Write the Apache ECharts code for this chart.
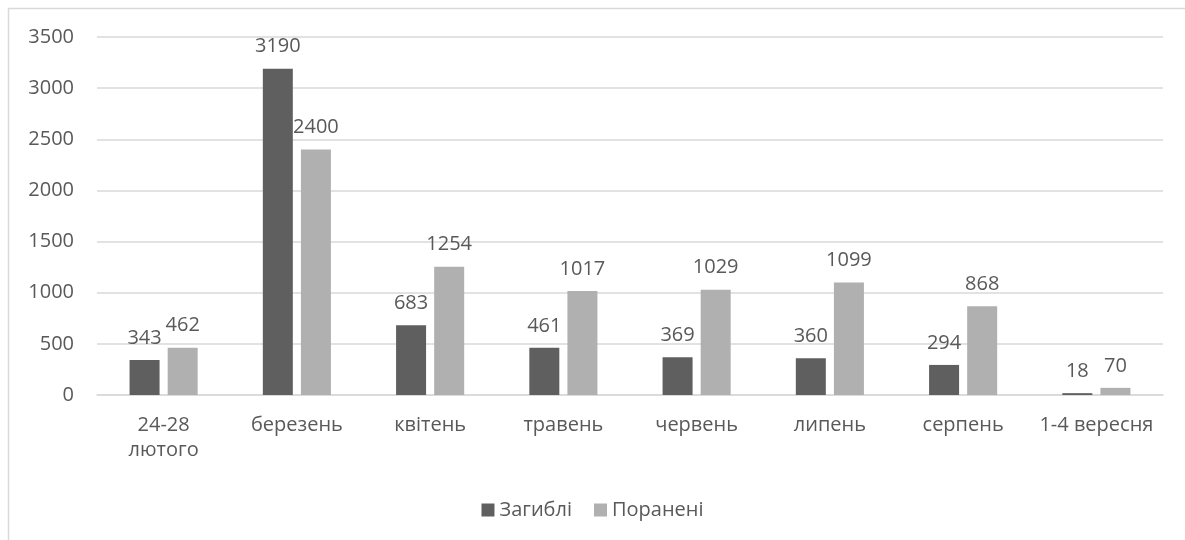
<!DOCTYPE html>
<html>
<head>
<meta charset="utf-8">
<script src="https://cdn.jsdelivr.net/npm/echarts@6/dist/echarts.min.js"></script>
<style>html,body{margin:0;padding:0;background:#fff}#c{width:1185px;height:540px}</style>
</head>
<body>
<div id="c"></div>
<script>
const categories = ['24-28\nлютого', 'березень', 'квітень', 'травень', 'червень', 'липень', 'серпень', '1-4 вересня'];
const killed = [343, 3190, 683, 461, 369, 360, 294, 18];
const wounded = [462, 2400, 1254, 1017, 1029, 1099, 868, 70];
const seriesNames = ['Загиблі', 'Поранені'];
const yTicks = {min: 0, max: 3500, interval: 500};

const font = '"Open Sans", "Noto Sans", sans-serif';
const txt = '#595959';
const fs = 20;
const chart = echarts.init(document.getElementById('c'));
chart.setOption({
  animation: false,
  textStyle: {fontFamily: font},
  graphic: [{type: 'rect', shape: {x: 8.5, y: 8.5, width: 1400, height: 800}, style: {fill: 'none', stroke: '#d9d9d9', lineWidth: 1.5}, silent: true}],
  grid: {left: 97, right: 22, top: 37, bottom: 145},
  legend: {top: 495, left: 'center', itemWidth: 13, itemHeight: 13, itemGap: 22, icon: 'rect',
    textStyle: {fontSize: fs, color: txt, fontFamily: font}, data: seriesNames},
  xAxis: {type: 'category', data: categories,
    axisLine: {lineStyle: {color: '#d9d9d9', width: 1.5}}, axisTick: {show: false},
    axisLabel: {fontSize: fs, color: txt, margin: 18, lineHeight: 25, interval: 0}},
  yAxis: {type: 'value', min: yTicks.min, max: yTicks.max, interval: yTicks.interval,
    axisLine: {show: false}, axisTick: {show: false},
    splitLine: {lineStyle: {color: '#d9d9d9', width: 1.5}},
    axisLabel: {fontSize: fs, color: txt, margin: 23, formatter: v => String(v)}},
  series: [
    {name: seriesNames[0], type: 'bar', data: killed, barWidth: 30, barGap: '27%', itemStyle: {color: '#5f5f5f'},
      label: {show: true, position: 'top', fontSize: fs, color: txt, distance: 12}},
    {name: seriesNames[1], type: 'bar', data: wounded, barWidth: 30, itemStyle: {color: '#b0b0b0'},
      label: {show: true, position: 'top', fontSize: fs, color: txt, distance: 12}}
  ]
});
</script>
</body>
</html>
